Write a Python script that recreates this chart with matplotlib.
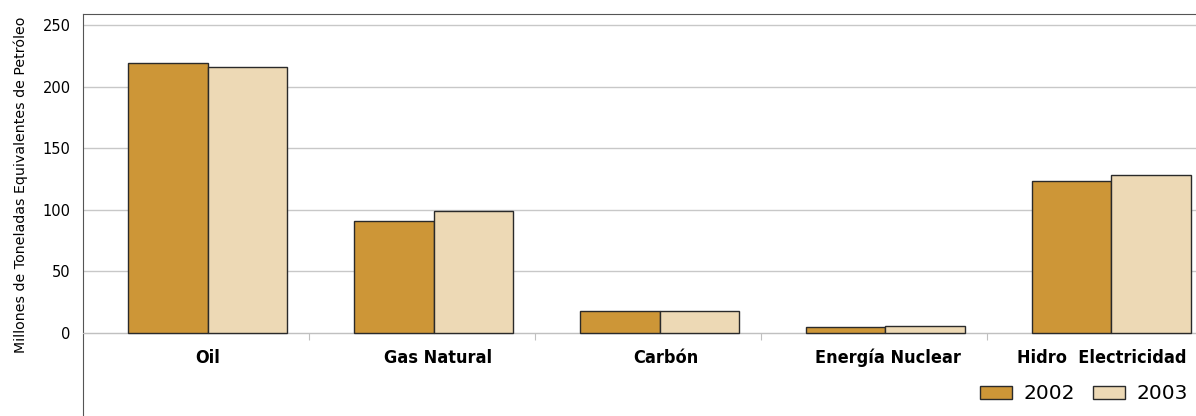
import numpy as np
import matplotlib.pyplot as plt
from matplotlib.patches import Patch

categories = ["Oil", "Gas Natural", "Carbón", "Energía Nuclear", "Hidro  Electricidad"]
values_2002 = [219, 91, 18, 5, 123]
values_2003 = [216, 99, 18, 5.3, 128]
series_labels = ["2002", "2003"]
yticks = [0, 50, 100, 150, 200, 250]

color_2002 = "#CD9637"
color_2003 = "#EDD9B5"
edge = "#2a2a2a"

fig = plt.figure(figsize=(11.96, 4.16), dpi=100)
ax = fig.add_axes([83 / 1196, 0.0, 1 - 83 / 1196, 1 - 14 / 416])

x = np.arange(len(categories))
w = 0.35
ax.bar(x - w / 2, values_2002, w, color=color_2002, edgecolor=edge, linewidth=1, zorder=3)
ax.bar(x + w / 2, values_2003, w, color=color_2003, edgecolor=edge, linewidth=1, zorder=3)

ax.set_xlim(-0.551, 4.374)
ax.set_ylim(-67.4, 259)

# gridlines
ax.set_yticks(yticks)
ax.yaxis.grid(True, color="#c8c8c8", linewidth=1, zorder=0)
ax.tick_params(axis="y", length=0, labelsize=10.5, pad=9)

# baseline at zero with separators between categories
ax.spines["bottom"].set_position(("data", 0))
ax.spines["bottom"].set_color("#c0c0c0")
ax.set_xticks(x[:-1] + 0.45)
ax.set_xticklabels([])
ax.tick_params(axis="x", length=5, color="#c0c0c0", direction="out")

ax.spines["right"].set_visible(False)
ax.spines["top"].set_color("#555555")
ax.spines["left"].set_color("#555555")

# category names (last one sits a little left of its bars)
label_shift = [0.0, 0.02, 0.03, 0.01, -0.045]
for xi, name, dx in zip(x, categories, label_shift):
    ax.text(xi + dx, -20.5, name, ha="center", va="center", fontsize=13,
            fontweight="bold", fontstretch="condensed", family="DejaVu Sans")

ax.set_ylabel("Millones de Toneladas Equivalentes de Petróleo", fontsize=10.2)
ax.yaxis.set_label_coords(-0.049, 0.575)

handles = [Patch(facecolor=color_2002, edgecolor=edge),
           Patch(facecolor=color_2003, edgecolor=edge)]
fig.legend(handles, series_labels, loc="center right", bbox_to_anchor=(1.003, 0.053),
           ncol=2, frameon=False, fontsize=14.5, handlelength=1.6, handleheight=0.65,
           columnspacing=0.9, handletextpad=0.55, borderpad=0.1)

fig.savefig("out.png", dpi=100)
